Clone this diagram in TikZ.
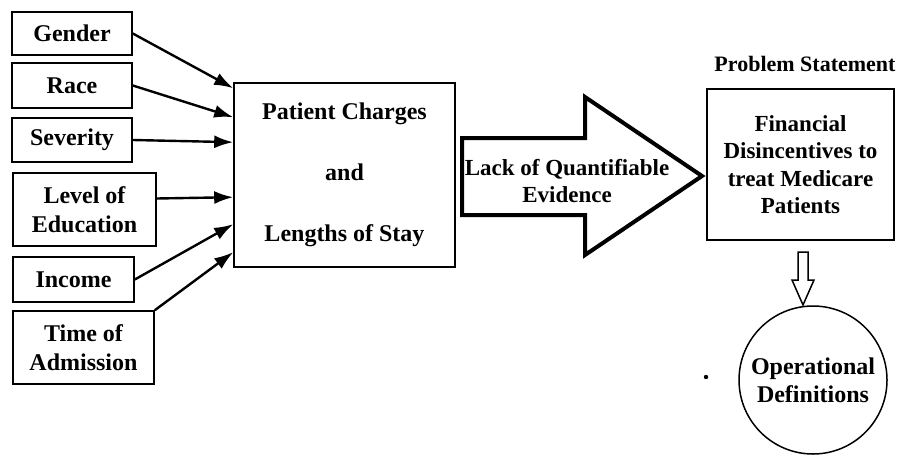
\documentclass[tikz,border=0pt]{standalone}
\usepackage{fontspec}
\setmainfont{Liberation Serif}
\usetikzlibrary{arrows.meta,calc}
\begin{document}
\begin{tikzpicture}[x=1pt,y=-1pt,
  every node/.style={font=\fontsize{24}{29}\selectfont\bfseries},
  factor/.style={draw,line width=1.6pt,align=center,inner sep=0pt},
  feed/.style={line width=2.4pt,-{Latex[length=19pt,width=13pt]}},
  bigarrow/.style={draw,line width=4pt,line join=miter},
  smallarrow/.style={draw,line width=1.5pt,line join=miter}]
\useasboundingbox (0,0) rectangle (901,460);

% input factors
\node[factor,minimum width=120pt,minimum height=43pt] (gender) at (72,33.5) {Gender};
\node[factor,minimum width=120pt,minimum height=45pt] (race) at (72,85.5) {Race};
\node[factor,minimum width=120pt,minimum height=44pt] (sev) at (72,140) {Severity};
\node[factor,minimum width=143pt,minimum height=73pt] (edu) at (84.5,209.5) {Level of\\Education};
\node[factor,minimum width=121pt,minimum height=45pt] (inc) at (73.5,279.5) {Income};
\node[factor,minimum width=141pt,minimum height=73pt] (adm) at (83.5,347.5) {Time of\\Admission};

% outcome box
\node[factor,minimum width=221pt,minimum height=184pt] (pc) at (344.5,175)
  {Patient Charges\\[32pt]and\\[32pt]Lengths of Stay};

% factor arrows into the outcome box
\draw[feed] (gender.east) -- ($(pc.north west)+(0,6)$);
\draw[feed] (race.east) -- ($(pc.north west)+(0,35)$);
\draw[feed] (sev.east) -- ($(pc.north west)+(0,60)$);
\draw[feed] ($(edu.east)+(0,-11)$) -- ($(pc.north west)+(0,115)$);
\draw[feed] (inc.east) -- ($(pc.north west)+(0,142)$);
\draw[feed] (adm.north east) -- ($(pc.north west)+(0,170)$);

% block arrow
\draw[bigarrow] (462,138) -- (585,138) -- (585,97) -- (702,176) -- (585,255)
  -- (585,215) -- (462,215) -- cycle;
\node[align=center,font=\fontsize{23}{27}\selectfont\bfseries] (lack) at (567,181)
  {Lack of Quantifiable\\Evidence};

% problem statement
\node[font=\fontsize{22}{26}\selectfont\bfseries] (ps) at (805,64) {Problem Statement};
\node[factor,minimum width=187pt,minimum height=151pt,
  font=\fontsize{23}{27.5}\selectfont\bfseries] (fin) at (800.5,164.5)
  {Financial\\Disincentives to\\treat Medicare\\Patients};

% down arrow to the definitions
\draw[smallarrow] (798,252) -- (808,252) -- (808,280) -- (814,280) -- (803,305)
  -- (792,280) -- (798,280) -- cycle;
\node[draw,circle,line width=1.5pt,minimum size=148pt,align=center,inner sep=0pt,
  font=\fontsize{24}{28}\selectfont\bfseries] (opdef) at (813,380) {Operational\\Definitions};
\fill (706,377) circle (2.2pt);
\end{tikzpicture}
\end{document}
